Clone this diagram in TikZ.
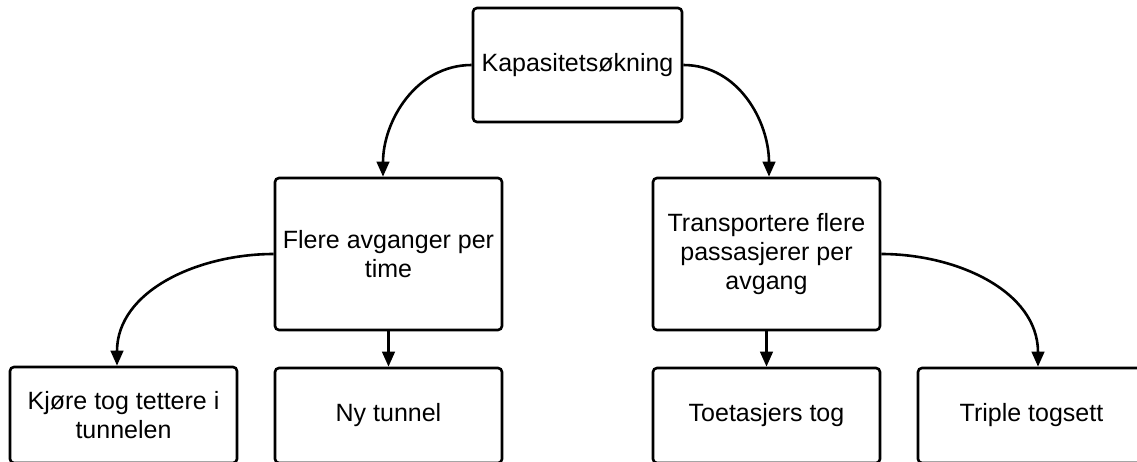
\documentclass[tikz,border=0pt]{standalone}
\usepackage{fontspec}
\setmainfont{Liberation Sans}
\usetikzlibrary{arrows.meta}
\begin{document}
\begin{tikzpicture}[x=1pt,y=-1pt,
  box/.style={draw=black, line width=2.6pt, rounded corners=4pt, fill=white,
    align=center, inner sep=0pt, minimum width=227pt,
    font=\fontsize{25}{29}\selectfont},
  link/.style={draw=black, line width=2.6pt,
    -{Triangle[length=15pt,width=12.5pt]}}]
  \useasboundingbox (0,0) rectangle (1137,461);
  % top level
  \node[box, minimum width=209pt, minimum height=114pt] (kap) at (577.5,65) {Kapasitetsøkning};
  % second level
  \node[box, minimum height=152pt] (flere) at (388.5,254) {Flere avganger per\\time};
  \node[box, minimum height=152pt] (trans) at (766.5,254) {Transportere flere\\passasjerer per\\avgang};
  % third level (running off the lower edge)
  \node[box, minimum height=96pt] (kjore) at (123.5,415) {Kjøre tog tettere i\\tunnelen};
  \node[box, minimum height=95pt] (ny) at (388.5,415.5) {Ny tunnel};
  \node[box, minimum height=95pt] (toet) at (766.5,415.5) {Toetasjers tog};
  \node[box, minimum height=95pt] (trip) at (1031.5,415.5) {Triple togsett};
  % connectors
  \draw[link] (kap.west) to[out=180,in=90] ([xshift=-5.5pt]flere.north);
  \draw[link] (kap.east) to[out=0,in=90] ([xshift=2.5pt]trans.north);
  \draw[link] (flere.west) to[out=180,in=90] ([xshift=-6.5pt]kjore.north);
  \draw[link] (flere.south) -- (ny.north);
  \draw[link] (trans.south) -- (toet.north);
  \draw[link] (trans.east) to[out=0,in=90] ([xshift=6.5pt]trip.north);
\end{tikzpicture}
\end{document}
